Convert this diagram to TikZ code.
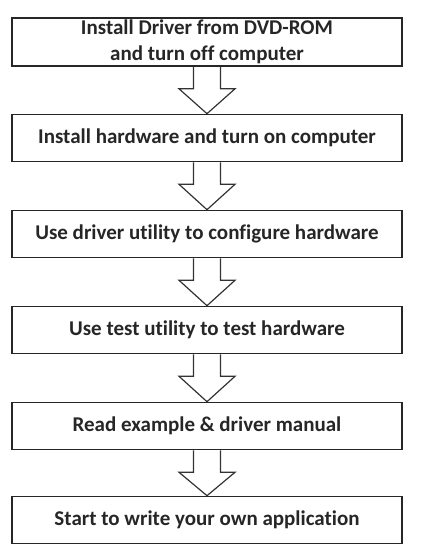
\documentclass[tikz,border=0pt]{standalone}
\usepackage{fontspec}
\setmainfont{Carlito}[Ligatures=NoCommon]
\usetikzlibrary{calc}

\tikzset{
  stepbox/.style={draw=black!85, line width=1.6pt, minimum width=390pt, minimum height=47pt,
    inner sep=1pt, align=center, text=black!85, font=\bfseries\fontsize{21}{26}\selectfont},
  blockarrow/.style={draw=black!80, line width=1.2pt, line join=miter}
}

\begin{document}
\begin{tikzpicture}[x=1pt,y=1pt]
  \useasboundingbox (0,0) rectangle (425,560);
  % the six steps
  \node[stepbox, minimum height=48pt] (install) at (207,518) {Install Driver from DVD-ROM\\and turn off computer};
  \node[stepbox] (hardware) at (207,422) {Install hardware and turn on computer};
  \node[stepbox] (configure) at (207,326) {Use driver utility to configure hardware};
  \node[stepbox] (testhw) at (207,230) {Use test utility to test hardware};
  \node[stepbox] (manual) at (207,134) {Read example \& driver manual};
  \node[stepbox] (application) at (207,40) {Start to write your own application};
  % hollow arrows between them
  \foreach \a/\b in {install/hardware, hardware/configure, configure/testhw, testhw/manual, manual/application}{
    \draw[blockarrow] ($(\a.south)+(-13.5,0)$) -- ++(0,-22) -- ++(-14.5,0) -- (\b.north)
      -- ($(\a.south)+(28,-22)$) -- ++(-14.5,0) -- ($(\a.south)+(13.5,0)$);
  }
\end{tikzpicture}
\end{document}
